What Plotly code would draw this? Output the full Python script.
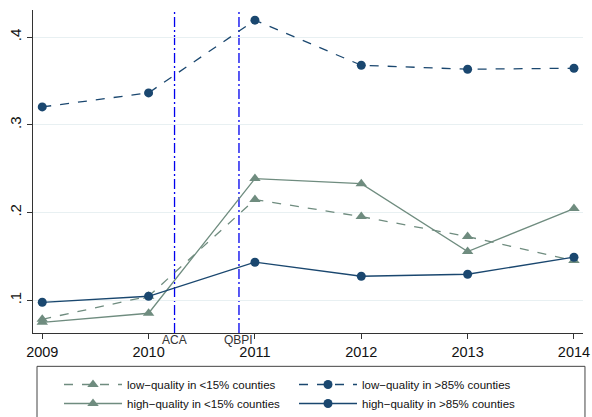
import plotly.graph_objects as go

years = [2009, 2010, 2011, 2012, 2013, 2014]
low_lt15 = [0.0783, 0.1046, 0.2148, 0.1954, 0.1726, 0.1453]
low_gt85 = [0.3205, 0.3365, 0.4194, 0.3680, 0.3635, 0.3646]
high_lt15 = [0.0749, 0.0852, 0.2388, 0.2330, 0.1555, 0.2046]
high_gt85 = [0.0977, 0.1046, 0.1434, 0.1274, 0.1297, 0.1491]

events = [2010.244, 2010.85]
event_labels = ["ACA", "QBPI"]

y_ticks = [0.1, 0.2, 0.3, 0.4]
y_labels = [".1", ".2", ".3", ".4"]

GREEN = "#6f8c7f"
NAVY = "#1a476f"
FONT = "Liberation Sans, Arial, sans-serif"

fig = go.Figure()
fig.add_trace(go.Scatter(x=years, y=low_lt15, name="low\u2212quality in <15% counties",
                         mode="lines+markers", line=dict(color=GREEN, width=1.3, dash="dash"),
                         marker=dict(symbol="triangle-up", size=10, color=GREEN)))
fig.add_trace(go.Scatter(x=years, y=low_gt85, name="low\u2212quality in >85% counties",
                         mode="lines+markers", line=dict(color=NAVY, width=1.3, dash="dash"),
                         marker=dict(symbol="circle", size=9, color=NAVY)))
fig.add_trace(go.Scatter(x=years, y=high_lt15, name="high\u2212quality in <15% counties",
                         mode="lines+markers", line=dict(color=GREEN, width=1.3),
                         marker=dict(symbol="triangle-up", size=10, color=GREEN)))
fig.add_trace(go.Scatter(x=years, y=high_gt85, name="high\u2212quality in >85% counties",
                         mode="lines+markers", line=dict(color=NAVY, width=1.3),
                         marker=dict(symbol="circle", size=9, color=NAVY)))

for xe, lab in zip(events, event_labels):
    fig.add_shape(type="line", x0=xe, x1=xe, y0=0, y1=1, xref="x", yref="paper",
                  line=dict(color="#0000ee", width=1.3, dash="10px,3px,2px,3px"), layer="below")
    fig.add_annotation(x=xe, y=0, xref="x", yref="paper", text=lab, showarrow=False,
                       yanchor="top", yshift=2, font=dict(size=12, color="#333333", family=FONT))

# legend frame
fig.add_shape(type="rect", xref="paper", yref="paper", x0=0.0073, x1=1.0036,
              y0=-0.27, y1=-0.1032, line=dict(color="#444444", width=1), fillcolor="rgba(0,0,0,0)")

fig.update_layout(
    width=592, height=417,
    margin=dict(l=33, r=9, t=10, b=84, autoexpand=False),
    paper_bgcolor="white", plot_bgcolor="white",
    font=dict(family=FONT, color="#111111"),
    showlegend=True,
    legend=dict(orientation="h", xref="container", yref="container",
                x=59 / 592, xanchor="left", y=1 - 370 / 417, yanchor="top",
                entrywidth=162, entrywidthmode="pixels", tracegroupgap=0,
                bgcolor="rgba(0,0,0,0)", borderwidth=0,
                font=dict(size=11.5, family=FONT), itemwidth=58),
)
fig.update_xaxes(range=[2008.913, 2014.085], tickvals=years, ticks="outside", ticklen=5,
                 tickcolor="#333333", showline=True, linecolor="#333333", linewidth=1.2,
                 showgrid=False, zeroline=False, automargin=False,
                 tickfont=dict(size=14.5, family=FONT))
fig.update_yaxes(range=[0.0627, 0.431], tickvals=y_ticks, ticktext=y_labels, tickangle=-90,
                 ticks="outside", ticklen=5, tickcolor="#333333", showline=True,
                 linecolor="#333333", linewidth=1.2, showgrid=True, gridcolor="#e8f0f2",
                 gridwidth=1, zeroline=False, automargin=False,
                 tickfont=dict(size=15, family=FONT))

fig.write_html("out.html", config={"displayModeBar": False},
               post_script="document.body.style.margin='0';document.body.style.overflow='hidden';")
